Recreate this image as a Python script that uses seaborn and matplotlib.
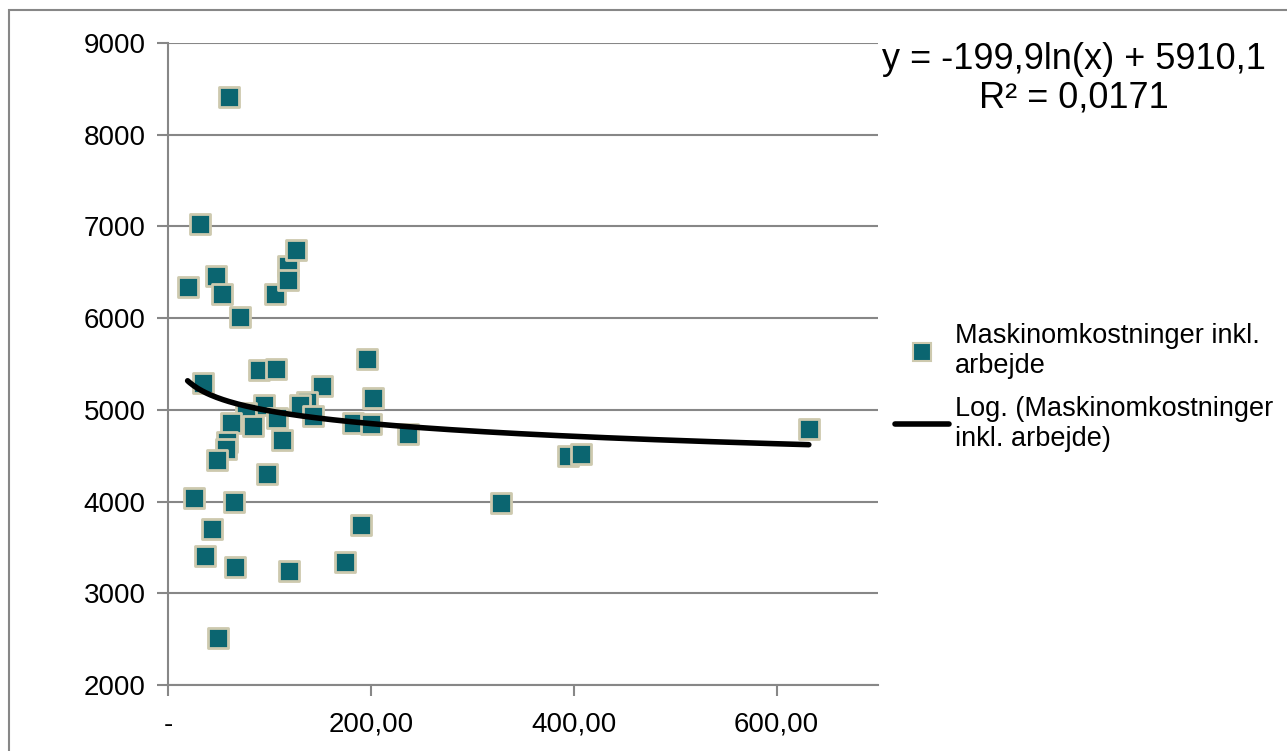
import numpy as np
import pandas as pd
import seaborn as sns
import matplotlib.pyplot as plt
from matplotlib.lines import Line2D
from matplotlib.patches import Rectangle

# data
areal = [59.8, 31.5, 19.4, 47.3, 53.2, 70.9, 105.4, 118.5, 118.5, 126.0,
         195.8, 34.2, 90.0, 106.4, 151.4, 202.3, 94.6, 136.7, 130.0, 76.8,
         61.8, 84.0, 107.7, 142.6, 182.0, 199.7, 237.0, 112.0, 58.4, 57.1,
         48.0, 97.2, 25.9, 65.3, 43.3, 190.8, 36.5, 66.3, 119.5, 174.4,
         49.6, 394.4, 406.9, 328.0, 631.8]
omk = [8410, 7020, 6340, 6460, 6260, 6015, 6265, 6565, 6420, 6740,
       5550, 5290, 5435, 5450, 5255, 5125, 5055, 5090, 5055, 4965,
       4855, 4825, 4910, 4935, 4860, 4845, 4735, 4670, 4655, 4570,
       4455, 4300, 4040, 3995, 3705, 3745, 3410, 3290, 3250, 3340,
       2510, 4500, 4525, 3985, 4790]

# trendline coefficients as printed on the chart
a_coef = -199.9
b_coef = 5910.1

x_ticks = [0, 200, 400, 600]
x_labels = ["-", "200,00", "400,00", "600,00"]
y_ticks = [2000, 3000, 4000, 5000, 6000, 7000, 8000, 9000]

serie = "Maskinomkostninger inkl.\narbejde"
trend_navn = "Log. (Maskinomkostninger\ninkl. arbejde)"

df = pd.DataFrame({"x": areal, "y": omk})
xs = np.linspace(min(areal), max(areal), 300)
trend = pd.DataFrame({"x": xs, "y": a_coef * np.log(xs) + b_coef})

sns.set_style("white")
plt.rcParams['font.family'] = ['Liberation Sans', 'DejaVu Sans']
plt.rcParams['text.color'] = 'black'
plt.rcParams['xtick.labelcolor'] = 'black'
plt.rcParams['ytick.labelcolor'] = 'black'

teal = "#0b6570"
beige = "#cdc9ae"
grey = "#878787"

fig = plt.figure(figsize=(12.87, 7.51), dpi=100)
ax = fig.add_axes([0.1305, 0.0875, 0.5517, 0.8556])

sns.scatterplot(data=df, x="x", y="y", marker="s", s=190, color=teal,
                edgecolor=beige, linewidth=2, ax=ax, zorder=3, legend=False)
sns.lineplot(data=trend, x="x", y="y", color="black", linewidth=4,
             ax=ax, zorder=4, legend=False)

ax.set_xlim(0, 700)
ax.set_ylim(2000, 9000)
ax.set_yticks(y_ticks)
ax.set_xticks(x_ticks)
ax.set_xticklabels(x_labels, fontsize=20)
ax.tick_params(axis="y", labelsize=20, length=8, width=1.5, color=grey,
               direction="out", left=True, pad=8)
ax.tick_params(axis="x", length=8, width=1.5, color=grey,
               direction="out", bottom=True, pad=11)
ax.yaxis.grid(True, color=grey, linewidth=1.5)
ax.xaxis.grid(False)
for s in ["top", "right"]:
    ax.spines[s].set_visible(False)
for s in ["left", "bottom"]:
    ax.spines[s].set_color(grey)
    ax.spines[s].set_linewidth(1.5)
ax.set_xlabel(None)
ax.set_ylabel(None)

# legend
handles = [
    Line2D([], [], marker="s", linestyle="none", markersize=13,
           markerfacecolor=teal, markeredgecolor=beige, markeredgewidth=1.5),
    Line2D([], [], color="black", linewidth=4),
]
fig.legend(handles, [serie, trend_navn], loc="center left",
           bbox_to_anchor=(895 / 1287, 0.484), frameon=False, fontsize=19.5,
           borderpad=0, borderaxespad=0, handlelength=2.0,
           handletextpad=0.2, labelspacing=0.6)

# equation
fig.text(1074 / 1287, 0.895, "y = -199,9ln(x) + 5910,1\nR² = 0,0171",
         ha="center", va="center", fontsize=26, linespacing=1.15)

# chart frame
fig.patches.append(Rectangle((9 / 1287, -0.1), 1.2, 1 - 10 / 751 + 0.1,
                             transform=fig.transFigure, fill=False,
                             edgecolor=grey, linewidth=1.5))

fig.savefig("out.png", dpi=100)
